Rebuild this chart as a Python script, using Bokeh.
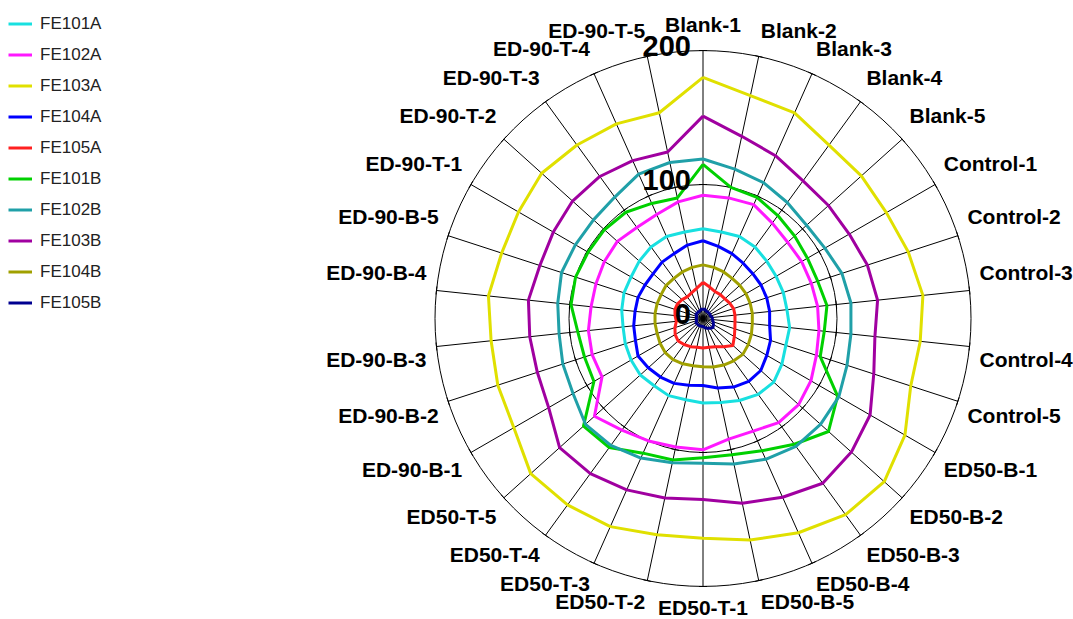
import numpy as np
from bokeh.plotting import figure
from bokeh.models import Range1d, Legend, LegendItem
from bokeh.core.properties import value
from bokeh.embed import file_html
from bokeh.resources import INLINE

categories = ["Blank-1", "Blank-2", "Blank-3", "Blank-4", "Blank-5",
              "Control-1", "Control-2", "Control-3", "Control-4", "Control-5",
              "ED50-B-1", "ED50-B-2", "ED50-B-3", "ED50-B-4", "ED50-B-5",
              "ED50-T-1", "ED50-T-2", "ED50-T-3", "ED50-T-4", "ED50-T-5",
              "ED-90-B-1", "ED-90-B-2", "ED-90-B-3", "ED-90-B-4", "ED-90-B-5",
              "ED-90-T-1", "ED-90-T-2", "ED-90-T-3", "ED-90-T-4", "ED-90-T-5"]

series_names = ["FE101A", "FE102A", "FE103A", "FE104A", "FE105A",
                "FE101B", "FE102B", "FE103B", "FE104B", "FE105B"]

fe101a = [67, 66, 67, 66, 64, 63, 63, 63, 65, 65, 68, 71, 70, 67, 64,
          63, 62, 63, 62, 63, 62, 61, 60, 61, 62, 62, 64, 66, 67, 66]
fe102a = [92, 92, 93, 88, 85, 85, 85, 86, 87, 89, 93, 96, 96, 92, 92,
          98, 98, 100, 103, 109, 87, 87, 86, 84, 84, 85, 86, 84, 85, 89]
fe103a = [180, 170, 168, 160, 159, 158, 161, 165, 163, 163, 174, 182, 181, 175, 169,
          164, 165, 170, 172, 173, 163, 161, 159, 161, 158, 159, 162, 160, 159, 157]
fe104a = [58, 55, 53, 51, 50, 50, 50, 50, 50, 53, 55, 58, 58, 56, 53,
          50, 51, 53, 54, 55, 56, 53, 52, 51, 51, 50, 50, 52, 53, 56]
fe105a = [27, 24, 22, 22, 22, 23, 24, 24, 24, 25, 27, 30, 26, 23, 22,
          22, 22, 23, 24, 25, 24, 22, 20, 21, 22, 22, 21, 20, 21, 23]
fe101b = [115, 100, 99, 95, 92, 90, 90, 93, 91, 92, 116, 126, 116, 108, 104,
          104, 108, 110, 119, 120, 94, 93, 94, 99, 100, 99, 99, 98, 94, 92]
fe102b = [119, 114, 111, 107, 104, 105, 109, 111, 111, 113, 117, 118, 118, 115, 111,
          108, 110, 114, 117, 118, 112, 110, 108, 109, 111, 110, 110, 112, 118, 119]
fe103b = [151, 139, 133, 127, 126, 126, 129, 131, 129, 134, 144, 149, 152, 146, 141,
          135, 137, 140, 143, 144, 133, 130, 130, 131, 128, 129, 131, 131, 129, 127]
fe104b = [40, 39, 38, 37, 37, 37, 37, 37, 37, 38, 39, 40, 39, 38, 37,
          36, 36, 37, 38, 38, 37, 36, 36, 36, 36, 36, 37, 37, 38, 39]
fe105b = [7, 7, 6, 6, 6, 6, 6, 7, 7, 8, 9, 10, 9, 8, 7,
          6, 6, 6, 6, 6, 6, 5, 5, 5, 5, 6, 6, 6, 6, 7]

series_values = [fe101a, fe102a, fe103a, fe104a, fe105a,
                 fe101b, fe102b, fe103b, fe104b, fe105b]
series_colors = ["#18E0E0", "#FF18FF", "#E0E000", "#0000FF", "#FF2020",
                 "#00D000", "#20A0A8", "#A000A0", "#A0A000", "#000090"]

tick_values = [0, 100, 200]
tick_labels = ["0", "100", "200"]

W, H = 1073, 619
CX, CY = 702.5, 318.0      # centre of the radar, canvas pixels
R_MAX = 200.0
R_PX = 268.0
k = R_PX / R_MAX

p = figure(width=W, height=H, x_range=Range1d(-CX, W - CX),
           y_range=Range1d(-(H - CY), CY), output_backend="svg",
           toolbar_location=None, min_border=0)
p.axis.visible = False
p.grid.visible = False
p.outline_line_color = None
p.background_fill_color = "white"
p.border_fill_color = "white"

n = len(categories)
theta = np.arange(n) * 2 * np.pi / n
st, ct = np.sin(theta), np.cos(theta)

# grid circles
p.circle(x=[0, 0], y=[0, 0], radius=[v * k for v in tick_values[1:]],
         fill_color=None, line_color="black", line_width=1)
# spokes
p.segment(x0=np.zeros(n), y0=np.zeros(n), x1=R_PX * st, y1=R_PX * ct,
          line_color="black", line_width=1)
# small tick marks on every spoke
tx0, ty0, tx1, ty1 = [], [], [], []
for tv in tick_values[1:]:
    r = tv * k
    for s, c in zip(st, ct):
        hl = 4.0
        tx0.append(r * s - hl * c); ty0.append(r * c + hl * s)
        tx1.append(r * s + hl * c); ty1.append(r * c - hl * s)
p.segment(x0=tx0, y0=ty0, x1=tx1, y1=ty1, line_color="black", line_width=1)

# series
renderers = []
for vals, col in zip(series_values, series_colors):
    v = np.array(vals + vals[:1], dtype=float) * k
    th = np.append(theta, theta[0])
    r = p.line(x=v * np.sin(th), y=v * np.cos(th), line_color=col,
               line_width=3, line_join="round")
    renderers.append(r)

# value axis labels
p.text(x=[-12] * len(tick_values), y=[tv * k + 5 for tv in tick_values],
       text=tick_labels, text_align="right", text_baseline="alphabetic",
       text_font=value("Liberation Sans"), text_font_style="bold",
       text_font_size="29px", text_color="black")

# category labels
RL = 278.0
lx, ly, la, lb = [], [], [], []
ymin = -(H - CY) + 24
for i, name in enumerate(categories):
    x = RL * st[i]
    y = RL * ct[i]
    if abs(st[i]) < 1e-6:
        a = "center"
    elif st[i] > 0:
        a = "left"
    else:
        a = "right"
    b = "bottom" if ct[i] > 0 else "top"
    if b == "bottom":
        y += 5
    if y < ymin:
        y = ymin
    lx.append(x); ly.append(y); la.append(a); lb.append(b)
for a in ["left", "right", "center"]:
    for b in ["top", "bottom"]:
        idx = [j for j in range(n) if la[j] == a and lb[j] == b]
        if not idx:
            continue
        p.text(x=[lx[j] for j in idx], y=[ly[j] for j in idx],
               text=[categories[j] for j in idx], text_align=a, text_baseline=b,
               text_font=value("Liberation Sans"), text_font_style="bold",
               text_font_size="21px", text_color="black")

legend = Legend(items=[LegendItem(label=nm, renderers=[r])
                       for nm, r in zip(series_names, renderers)],
                location=(8, 306))
legend.border_line_color = None
legend.background_fill_alpha = 0
legend.padding = 0
legend.margin = 0
legend.spacing = 10
legend.glyph_height = 21
legend.glyph_width = 24
legend.label_height = 21
legend.label_standoff = 8
legend.label_text_font = "Liberation Sans"
legend.label_text_font_size = "17px"
legend.label_text_color = "#222222"
p.add_layout(legend)

open("out.html", "w").write(file_html(p, INLINE))
